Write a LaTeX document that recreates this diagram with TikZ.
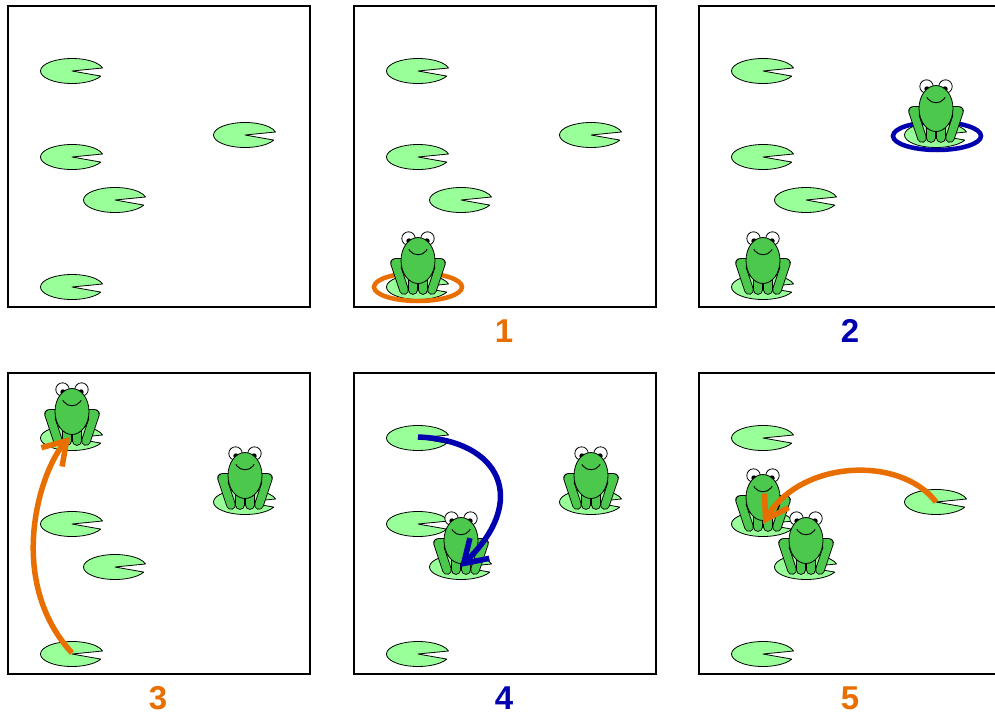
\documentclass[tikz,border=0pt]{standalone}
\usepackage{fontspec}
\setmainfont{Liberation Sans}
\usetikzlibrary{arrows.meta}
\definecolor{padgreen}{RGB}{153,255,153}
\definecolor{froggreen}{RGB}{76,200,76}
\definecolor{myorange}{RGB}{232,110,0}
\definecolor{myblue}{RGB}{0,0,175}
\tikzset{
  panel/.style={draw=black, line width=1.3pt},
  padshape/.style={fill=padgreen, draw=black, line width=0.8pt, line join=round},
  legout/.style={draw=black, line width=9.6pt, line cap=round, line join=round},
  legin/.style={draw=froggreen, line width=7.8pt, line cap=round, line join=round},
  frogskin/.style={fill=froggreen, draw=black, line width=0.8pt},
  eyeball/.style={fill=white, draw=black, line width=0.8pt},
  ring/.style={line width=4.5pt},
  jump/.style={line width=5.5pt, -{Straight Barb[length=22pt,width=28pt]}},
  lab/.style={font=\fontsize{33}{33}\selectfont\bfseries},
  pics/pad/.style={code={
    \draw[padshape] (0,0) -- (24:31.5 and 12.5)
      arc[start angle=24, end angle=346, x radius=31.5, y radius=12.5] -- cycle;
  }},
  pics/frog/.style={code={
    \draw[legout] (-10,-24) -- (-23,-24) -- (-14,3);
    \draw[legin]  (-10,-24) -- (-23,-24) -- (-14,3);
    \draw[legout] (10,-24) -- (23,-24) -- (14,3);
    \draw[legin]  (10,-24) -- (23,-24) -- (14,3);
    \draw[legout] (-5,-10) -- (-5,3);
    \draw[legin]  (-5,-10) -- (-5,3);
    \draw[legout] (5,-10) -- (5,3);
    \draw[legin]  (5,-10) -- (5,3);
    \draw[eyeball] (-9.5,-48.5) circle[radius=6.7];
    \draw[eyeball] (9.5,-48.5) circle[radius=6.7];
    \fill[black] (-9,-46) circle[radius=2.7];
    \fill[black] (9,-46) circle[radius=2.7];
    \draw[frogskin] (0,-26.5) ellipse[x radius=17, y radius=23];
    \draw[line width=0.9pt, line cap=round] (-9,-37.5) -- (-8,-36) .. controls (-4,-31) and (4,-31) .. (8,-36) -- (9,-37.5);
  }}
}
\begin{document}
\begin{tikzpicture}[x=1pt, y=-1pt]
\useasboundingbox (0,0) rectangle (995,715);
\fill[white] (0,0) rectangle (995,715);

% panels
\foreach \ox/\oy in {8/6,354/6,699/6,8/373,354/373,699/373} {
  \draw[panel] (\ox,\oy) rectangle ++(302,301);
  \begin{scope}[shift={(\ox,\oy)}]
    \pic at (64,65) {pad};
    \pic at (64,151) {pad};
    \pic at (107,194) {pad};
    \pic at (237,129) {pad};
    \pic at (64,281) {pad};
  \end{scope}
}

% rings
\draw[ring, myorange] (418,287) ellipse[x radius=44, y radius=14];
\draw[ring, myblue] (937,136) ellipse[x radius=44, y radius=14];

% frogs
\pic (f2e) at (418,287) {frog};
\pic (f3e) at (763,287) {frog};
\pic (f3d) at (936,135) {frog};
\pic (f4a) at (72,438) {frog};
\pic (f4d) at (245,502) {frog};
\pic (f5c) at (461,567) {frog};
\pic (f5d) at (591,502) {frog};
\pic (f6b) at (763,524) {frog};
\pic (f6c) at (806,567) {frog};

% jumps
\coordinate (s3) at (72,653);
\coordinate (e3) at (70,437);
\draw[jump, myorange] (s3) .. controls (5,580) and (40,470) .. (e3);
\coordinate (s4) at (418,437);
\coordinate (e4) at (460,567);
\draw[jump, myblue] (s4) .. controls (500,440) and (530,500) .. (e4);
\coordinate (s5) at (936,502);
\coordinate (e5) at (763,524);
\draw[jump, myorange] (s5) .. controls (900,455) and (800,460) .. (e5);

% labels
\node[lab, text=myorange] (l1) at (504,331) {1};
\node[lab, text=myblue] (l2) at (850,331) {2};
\node[lab, text=myorange] (l3) at (158,698) {3};
\node[lab, text=myblue] (l4) at (504,698) {4};
\node[lab, text=myorange] (l5) at (850,698) {5};
\end{tikzpicture}
\end{document}
